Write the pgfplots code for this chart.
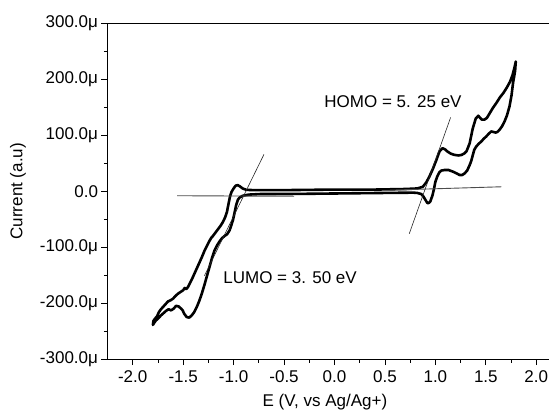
\documentclass[border=0pt]{standalone}
\usepackage{fontspec}
\setmainfont{Liberation Sans}
\usepackage{pgfplots}
\pgfplotsset{compat=1.18}

\begin{document}
\begin{tikzpicture}
\useasboundingbox (-107.5pt,-54pt) rectangle (441.5pt,359pt);
\begin{axis}[
  at={(0,0)}, anchor=south west,
  scale only axis, width=454pt, height=335.5pt,
  xmin=-2.25, xmax=2.25, ymin=-300, ymax=300,
  xtick={-2,-1.5,-1,-0.5,0,0.5,1,1.5,2},
  xticklabels={-2.0,-1.5,-1.0,-0.5,0.0,0.5,1.0,1.5,2.0},
  ytick={-300,-200,-100,0,100,200,300},
  yticklabels={-300.0μ,-200.0μ,-100.0μ,0.0,100.0μ,200.0μ,300.0μ},
  minor x tick num=1, minor y tick num=1,
  xtick pos=bottom, ytick pos=left,
  tick align=outside, major tick length=6pt, minor tick length=3.5pt,
  tick style={black, line width=0.8pt},
  axis line style={line width=1pt},
  tick label style={font=\fontsize{17}{20}\selectfont},
  xticklabel style={yshift=-2pt},
  label style={font=\fontsize{17}{20}\selectfont},
  xlabel={E (V, vs Ag/Ag+)},
  ylabel={Current (a.u)},
  xlabel style={at={(axis description cs:0.479,-0.127)}, anchor=center},
  ylabel style={at={(axis description cs:-0.197,0.5)}, anchor=center},
  clip=false,
]
% cyclic voltammogram
\addplot[black, line width=2.6pt, line join=round] coordinates {
(0.00,3) (0.40,3) (0.70,4) (0.82,5) (0.876,8) (0.91,16) (0.94,26) (0.975,40)
(1.01,56) (1.04,71) (1.07,77) (1.095,75) (1.12,71) (1.155,67) (1.19,65) (1.23,64)
(1.26,65) (1.29,68) (1.31,72) (1.34,86) (1.37,112) (1.40,130) (1.425,135) (1.445,131)
(1.46,128) (1.485,128) (1.51,131) (1.54,140) (1.57,149) (1.605,158) (1.64,168)
(1.675,176) (1.71,186) (1.74,196) (1.765,208) (1.785,222) (1.797,232)
(1.79,215) (1.77,194) (1.755,172) (1.735,152) (1.71,136) (1.686,125) (1.66,116)
(1.636,110) (1.615,106) (1.597,105) (1.575,106) (1.554,107) (1.53,103) (1.504,98)
(1.48,94) (1.455,89) (1.43,85) (1.405,80) (1.385,74) (1.37,64) (1.355,54) (1.34,47)
(1.315,37) (1.29,32) (1.265,29) (1.24,29) (1.21,32) (1.175,35) (1.13,38) (1.09,38)
(1.06,37) (1.04,34) (1.02,27) (1.0,17) (0.985,3) (0.97,-8) (0.95,-18) (0.935,-21)
(0.92,-21) (0.90,-15) (0.88,-9) (0.86,-5) (0.82,-3) (0.78,-2.5) (0.5,-3) (0.0,-4)
(-0.5,-5) (-0.74,-5) (-0.85,-6) (-0.908,-8) (-0.94,-11) (-0.957,-15) (-0.975,-25)
(-0.99,-38) (-1.007,-52) (-1.025,-62) (-1.04,-70) (-1.065,-77) (-1.09,-80)
(-1.115,-84) (-1.14,-90) (-1.165,-97) (-1.19,-106) (-1.215,-120) (-1.24,-136)
(-1.265,-152) (-1.29,-168) (-1.315,-183) (-1.34,-196) (-1.365,-207) (-1.39,-216)
(-1.415,-222) (-1.44,-226) (-1.465,-225) (-1.49,-219) (-1.505,-213) (-1.52,-210)
(-1.545,-206) (-1.57,-205) (-1.595,-210) (-1.62,-213) (-1.645,-211) (-1.67,-214)
(-1.695,-218) (-1.72,-222) (-1.745,-227) (-1.77,-231) (-1.79,-236) (-1.80,-239)
(-1.795,-232) (-1.78,-228) (-1.76,-224) (-1.74,-216) (-1.72,-211) (-1.70,-207)
(-1.675,-202) (-1.65,-197) (-1.625,-195) (-1.60,-192) (-1.575,-187) (-1.55,-183)
(-1.525,-180) (-1.50,-177) (-1.485,-173) (-1.47,-175) (-1.455,-172) (-1.44,-167)
(-1.415,-158) (-1.39,-148) (-1.365,-138) (-1.34,-128) (-1.315,-118) (-1.29,-107)
(-1.265,-98) (-1.24,-89) (-1.22,-83) (-1.205,-80) (-1.18,-74) (-1.155,-68)
(-1.13,-62) (-1.106,-55) (-1.085,-47) (-1.066,-37) (-1.05,-22) (-1.035,-9)
(-1.02,-1) (-1.0,5) (-0.98,10) (-0.96,11) (-0.94,9) (-0.91,5) (-0.874,2.5)
(-0.8,2) (-0.5,2) (0.0,3)
};
% tangent and baseline construction lines
\addplot[black!85, line width=0.6pt] coordinates {(-1.289,-151) (-0.699,66)};
\addplot[black!70, line width=0.9pt] coordinates {(-1.56,-8) (-0.40,-9)};
\addplot[black!85, line width=0.6pt] coordinates {(0.741,-76) (1.151,132)};
\addplot[black!70, line width=0.9pt] coordinates {(0.55,2) (1.653,8)};
\node[font=\fontsize{17}{20}\selectfont] at (axis cs:0.58,160) {HOMO = 5. 25 eV};
\node[font=\fontsize{17}{20}\selectfont] at (axis cs:-0.44,-154) {LUMO = 3. 50 eV};
\end{axis}
\end{tikzpicture}
\end{document}
